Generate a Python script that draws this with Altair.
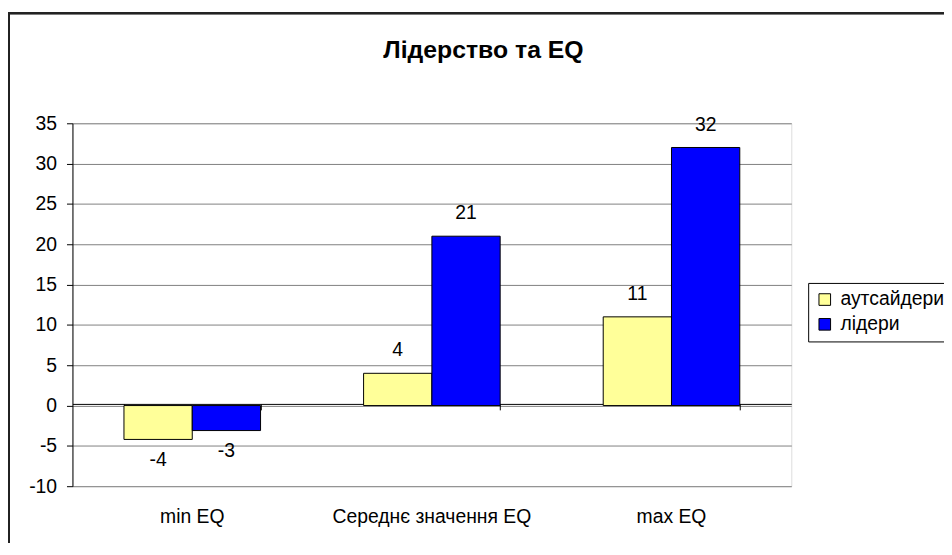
import altair as alt
import pandas as pd

title_text = "Лідерство та EQ"
categories = ["min EQ", "Середнє значення EQ", "max EQ"]
series = ["аутсайдери", "лідери"]
outsiders = [-4.2, 4, 11]
leaders = [-3.1, 21, 32]
y_ticks = [-10, -5, 0, 5, 10, 15, 20, 25, 30, 35]

rows = []
for i, c in enumerate(categories):
    rows.append({"cat": c, "series": series[0], "value": outsiders[i], "label": str(round(outsiders[i]))})
    rows.append({"cat": c, "series": series[1], "value": leaders[i], "label": str(round(leaders[i]))})
df = pd.DataFrame(rows)

FONT = "Liberation Sans"
FS = 19.5
W, H = 725, 366

xscale = alt.Scale(paddingInner=0.43, paddingOuter=0.215)
xenc = alt.X("cat:N", sort=categories, title=None, scale=xscale,
             axis=alt.Axis(labelAngle=0, domain=False, ticks=False, labelPadding=22,
                           labelLimit=0, labelFont=FONT, labelFontSize=FS, labelColor="black"))
yscale = alt.Scale(domain=[-10, 35], nice=False, zero=False)
yenc = alt.Y("value:Q", scale=yscale, title=None,
             axis=alt.Axis(values=y_ticks, domain=True, domainColor="black", tickColor="black",
                           tickSize=6, gridColor="#808080", gridWidth=1, labelFont=FONT,
                           labelFontSize=FS, labelColor="black", labelPadding=10,
                           labelExpr="'' + datum.value"))

base = alt.Chart(df)

bars = base.mark_bar(stroke="black", strokeWidth=1).encode(
    x=xenc,
    xOffset=alt.XOffset("series:N", sort=series, scale=alt.Scale(paddingInner=0, paddingOuter=0)),
    y=yenc,
    y2=alt.datum(0),
    color=alt.Color("series:N", sort=series,
                    scale=alt.Scale(domain=series, range=["#FFFF99", "#0000FF"]),
                    legend=alt.Legend(title=None, orient="none", legendX=742, legendY=161,
                                      symbolType="square", symbolSize=137, symbolStrokeColor="black",
                                      symbolStrokeWidth=1, labelFont=FONT, labelFontSize=FS,
                                      labelColor="black", strokeColor="black", padding=7,
                                      rowPadding=4, labelOffset=6)),
)

text_x = alt.X("cat:N", sort=categories, axis=None)
text_off = alt.XOffset("series:N", sort=series)

pos_labels = base.transform_filter("datum.value >= 0").mark_text(
    font=FONT, fontSize=FS, color="black", baseline="alphabetic", dy=-17
).encode(x=text_x, xOffset=text_off, y=alt.Y("value:Q", scale=yscale), text="label:N")

neg_labels = base.transform_filter("datum.value < 0").mark_text(
    font=FONT, fontSize=FS, color="black", baseline="top", dy=12
).encode(x=text_x, xOffset=text_off, y=alt.Y("value:Q", scale=yscale), text="label:N")

zero_df = pd.DataFrame({"cat": categories, "zero": [0, 0, 0]})
zero_axis = alt.Chart(zero_df).mark_rule(color="black", strokeWidth=1).encode(
    x=alt.X("cat:N", sort=categories, title=None,
            axis=alt.Axis(orient="bottom", offset=-83, labels=False, domain=True,
                          domainColor="black", ticks=True, tickColor="black", tickSize=6,
                          tickBand="extent", grid=False)),
    y=alt.Y("zero:Q", scale=yscale),
    opacity=alt.value(0),
)

frame = alt.Chart(zero_df).mark_rect(fill=None, stroke="#222222", strokeWidth=2).encode(
    x=alt.value(-64), x2=alt.value(W + 200),
    y=alt.value(-111), y2=alt.value(H + 100),
)

title_df = pd.DataFrame({"t": [title_text]})
title = alt.Chart(title_df).mark_text(
    font=FONT, fontSize=25, fontWeight="bold", color="black", align="center", baseline="alphabetic"
).encode(text="t:N", x=alt.value(W / 2 + 52), y=alt.value(-66))

chart = alt.layer(frame, bars, zero_axis, pos_labels, neg_labels, title).resolve_axis(
    x="independent"
).properties(
    width=W, height=H,
    autosize=alt.AutoSizeParams(type="none"),
    padding={"left": 65, "top": 114, "right": 154, "bottom": 55},
).configure_view(stroke="#808080", strokeWidth=1).configure(background="white")

chart.save("out.html", embed_options={"renderer": "svg", "actions": False})
